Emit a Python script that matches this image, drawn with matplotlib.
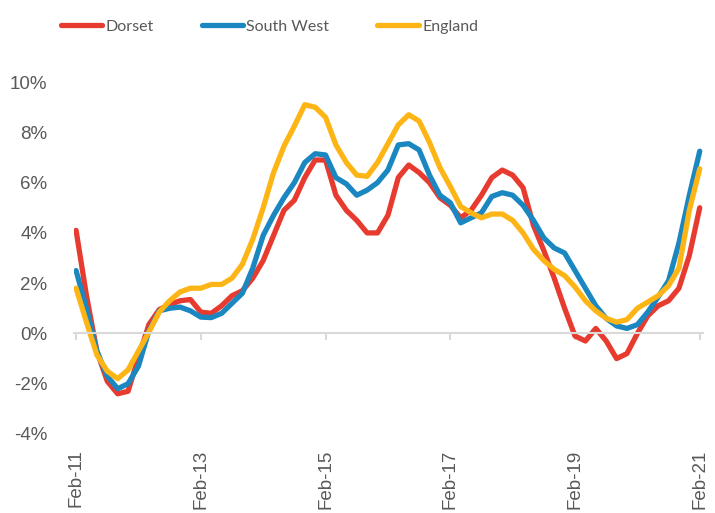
import numpy as np
import matplotlib
matplotlib.use('Agg')
import matplotlib.pyplot as plt
from matplotlib.ticker import PercentFormatter

# Monthly index from Feb-11 (0) to Feb-21 (120), read every two months
months = np.arange(0, 121, 2)

dorset = [4.1, 1.5, -0.7, -1.9, -2.4, -2.3, -0.95, 0.35, 0.95, 1.15,
          1.3, 1.35, 0.85, 0.8, 1.1, 1.5, 1.7, 2.2, 2.9, 3.9,
          4.9, 5.3, 6.2, 6.9, 6.9, 5.5, 4.9, 4.5, 4.0, 4.0,
          4.7, 6.2, 6.7, 6.4, 6.0, 5.4, 5.1, 4.6, 4.9, 5.5,
          6.2, 6.5, 6.3, 5.8, 4.3, 3.3, 2.2, 1.0, -0.1, -0.3,
          0.2, -0.3, -1.0, -0.8, 0.0, 0.7, 1.1, 1.3, 1.8, 3.1,
          5.0]

south_west = [2.5, 1.0, -0.7, -1.7, -2.2, -2.0, -1.3, 0.1, 0.9, 1.0,
              1.05, 0.9, 0.65, 0.63, 0.8, 1.2, 1.6, 2.6, 3.9, 4.7,
              5.4, 6.0, 6.8, 7.15, 7.1, 6.2, 5.95, 5.5, 5.7, 6.0,
              6.5, 7.5, 7.55, 7.3, 6.3, 5.5, 5.2, 4.4, 4.6, 4.8,
              5.45, 5.6, 5.5, 5.1, 4.5, 3.8, 3.4, 3.2, 2.5, 1.8,
              1.1, 0.6, 0.3, 0.2, 0.35, 0.85, 1.45, 2.1, 3.6, 5.5,
              7.25]

england = [1.8, 0.45, -0.85, -1.5, -1.8, -1.45, -0.7, 0.05, 0.85, 1.3,
           1.65, 1.8, 1.8, 1.95, 1.95, 2.2, 2.75, 3.75, 5.0, 6.4,
           7.45, 8.25, 9.1, 9.0, 8.6, 7.5, 6.8, 6.3, 6.25, 6.8,
           7.55, 8.3, 8.7, 8.45, 7.6, 6.6, 5.85, 5.05, 4.8, 4.6,
           4.75, 4.75, 4.5, 4.0, 3.35, 2.9, 2.55, 2.3, 1.85, 1.3,
           0.9, 0.6, 0.45, 0.55, 1.0, 1.25, 1.5, 1.9, 2.6, 4.9,
           6.55]

tick_months = [0, 24, 48, 72, 96, 120]
tick_labels = ['Feb-11', 'Feb-13', 'Feb-15', 'Feb-17', 'Feb-19', 'Feb-21']

grey = '#595959'
plt.rcParams['font.family'] = ['Liberation Sans', 'DejaVu Sans']
plt.rcParams['axes.unicode_minus'] = False

fig = plt.figure(figsize=(7.15, 5.13), dpi=100)
ax = fig.add_axes([0.1035, 0.154, 0.8795, 0.686])

style = dict(lw=3.8, solid_capstyle='round', solid_joinstyle='round')
ax.plot(months, dorset, color='#E63B2E', label='Dorset', **style)
ax.plot(months, south_west, color='#1B87C1', label='South West', **style)
ax.plot(months, england, color='#FDB515', label='England', **style)

ax.set_xlim(-0.4, 120.6)
ax.set_ylim(-4, 10)
ax.set_yticks(np.arange(-4, 11, 2))
ax.yaxis.set_major_formatter(PercentFormatter(decimals=0))
ax.tick_params(axis='y', length=0, pad=19, labelsize=13.5, labelcolor=grey)

for s in ['top', 'right', 'left']:
    ax.spines[s].set_visible(False)
ax.spines['bottom'].set_position(('data', 0))
ax.spines['bottom'].set_color('#D9D9D9')
ax.spines['bottom'].set_linewidth(1.5)
ax.set_xticks(tick_months)
ax.tick_params(axis='x', length=5, width=1.5, color='#D9D9D9', labelbottom=False)

# labels sit at the bottom of the plot, not on the zero line
sec = ax.secondary_xaxis('bottom')
sec.set_xticks(tick_months)
sec.set_xticklabels(tick_labels, rotation=90)
sec.tick_params(length=0, pad=11, labelsize=13.5, labelcolor=grey)
sec.spines['bottom'].set_visible(False)

fig.legend(loc='upper left', bbox_to_anchor=(0.065, 0.99), ncol=3, frameon=False,
           handlelength=2.6, handletextpad=0.2, columnspacing=3.0,
           prop={'family': 'Lato', 'size': 11.5}, labelcolor=grey)

fig.savefig('out.png', dpi=100)
